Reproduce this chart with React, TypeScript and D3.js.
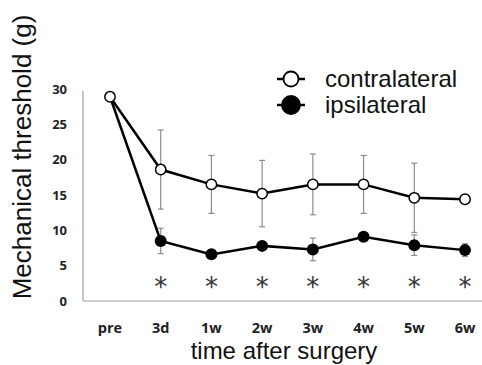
import { useEffect, useRef } from 'react';
import * as d3 from 'd3';

const categories = ['pre', '3d', '1w', '2w', '3w', '4w', '5w', '6w'];
const contraMean = [28.9, 18.6, 16.5, 15.2, 16.5, 16.5, 14.6, 14.4];
const contraErr = [0, 5.6, 4.1, 4.7, 4.3, 4.1, 4.9, 0.3];
const ipsiMean = [28.9, 8.5, 6.6, 7.8, 7.3, 9.1, 7.9, 7.2];
const ipsiErr = [0, 1.8, 0.4, 0.4, 1.6, 0.3, 1.45, 0.9];
const significant = [false, true, true, true, true, true, true, true];
const yTicks = [0, 5, 10, 15, 20, 25, 30];

const App = () => {
  const svgRef = useRef<SVGSVGElement>(null);

  useEffect(() => {
    const w = 482;
    const h = 365;
    const svg = d3.select(svgRef.current);
    svg.selectAll('*').remove();
    svg.attr('width', w).attr('height', h);

    const x = d3.scalePoint<string>().domain(categories).range([110, 465]);
    const y = d3.scaleLinear().domain([0, 30]).range([301, 89]);

    // axes lines
    svg.append('line')
      .attr('x1', 83).attr('x2', 482)
      .attr('y1', y(0)).attr('y2', y(0))
      .attr('stroke', '#a0a0a0').attr('stroke-width', 1.2);
    svg.append('line')
      .attr('x1', 83).attr('x2', 83)
      .attr('y1', y(0)).attr('y2', y(29.7))
      .attr('stroke', '#a0a0a0').attr('stroke-width', 1.2);

    // y tick labels
    svg.append('g')
      .selectAll('text')
      .data(yTicks)
      .enter().append('text')
      .attr('x', 67)
      .attr('y', d => y(d))
      .attr('dy', '0.35em')
      .attr('text-anchor', 'end')
      .style('font-family', '"Open Sans", sans-serif')
      .style('font-weight', 'bold')
      .style('font-size', '13px')
      .attr('fill', '#222')
      .text(d => d);

    // x tick labels
    svg.append('g')
      .selectAll('text')
      .data(categories)
      .enter().append('text')
      .attr('x', d => x(d)!)
      .attr('y', 328)
      .attr('dy', '0.35em')
      .attr('text-anchor', 'middle')
      .style('font-family', '"Open Sans", sans-serif')
      .style('font-weight', 'bold')
      .style('font-size', '14.5px')
      .attr('fill', '#222')
      .text(d => d);

    // axis titles
    svg.append('text')
      .attr('x', 284)
      .attr('y', 359)
      .attr('text-anchor', 'middle')
      .style('font-family', '"Liberation Sans", Arial, sans-serif')
      .style('font-size', '24px')
      .attr('fill', '#111')
      .text('time after surgery');
    svg.append('text')
      .attr('transform', 'translate(31,157) rotate(-90)')
      .attr('text-anchor', 'middle')
      .style('font-family', '"Liberation Sans", Arial, sans-serif')
      .style('font-size', '26px')
      .attr('fill', '#111')
      .text('Mechanical threshold (g)');

    // error bars
    const drawErr = (mean: number[], err: number[]) => {
      const g = svg.append('g').attr('stroke', '#8c8c8c').attr('stroke-width', 1.2);
      categories.forEach((c, i) => {
        if (err[i] <= 0) return;
        const cx = x(c)!;
        const top = y(mean[i] + err[i]);
        const bot = y(mean[i] - err[i]);
        g.append('line').attr('x1', cx).attr('x2', cx).attr('y1', top).attr('y2', bot);
        g.append('line').attr('x1', cx - 3).attr('x2', cx + 3).attr('y1', top).attr('y2', top);
        g.append('line').attr('x1', cx - 3).attr('x2', cx + 3).attr('y1', bot).attr('y2', bot);
      });
    };
    drawErr(contraMean, contraErr);
    drawErr(ipsiMean, ipsiErr);

    const line = d3.line<number>()
      .x((_, i) => x(categories[i])!)
      .y(d => y(d));

    svg.append('path')
      .attr('d', line(ipsiMean))
      .attr('fill', 'none')
      .attr('stroke', '#000')
      .attr('stroke-width', 2.5);
    svg.append('path')
      .attr('d', line(contraMean))
      .attr('fill', 'none')
      .attr('stroke', '#000')
      .attr('stroke-width', 2.5);

    // ipsilateral markers
    svg.append('g')
      .selectAll('circle')
      .data(ipsiMean.slice(1))
      .enter().append('circle')
      .attr('cx', (_, i) => x(categories[i + 1])!)
      .attr('cy', d => y(d))
      .attr('r', 6)
      .attr('fill', '#000');

    // contralateral markers
    svg.append('g')
      .selectAll('circle')
      .data(contraMean)
      .enter().append('circle')
      .attr('cx', (_, i) => x(categories[i])!)
      .attr('cy', d => y(d))
      .attr('r', 5.2)
      .attr('fill', '#fff')
      .attr('stroke', '#000')
      .attr('stroke-width', 1.5);

    // significance asterisks
    svg.append('g')
      .selectAll('text')
      .data(categories.filter((_, i) => significant[i]))
      .enter().append('text')
      .attr('x', d => x(d)!)
      .attr('y', 296)
      .attr('text-anchor', 'middle')
      .style('font-family', '"DejaVu Sans", sans-serif')
      .style('font-size', '26px')
      .attr('fill', '#333')
      .text('*');

    // legend
    const legend = svg.append('g');
    const items = [
      { label: 'contralateral', fill: '#fff', r: 7.5, y: 79 },
      { label: 'ipsilateral', fill: '#000', r: 9, y: 105 }
    ];
    items.forEach(it => {
      legend.append('line')
        .attr('x1', 277).attr('x2', 305)
        .attr('y1', it.y).attr('y2', it.y)
        .attr('stroke', '#000').attr('stroke-width', 2.5);
      legend.append('circle')
        .attr('cx', 291).attr('cy', it.y).attr('r', it.r)
        .attr('fill', it.fill).attr('stroke', '#000').attr('stroke-width', 1.8);
      legend.append('text')
        .attr('x', 325).attr('y', it.y)
        .attr('dy', '0.35em')
        .style('font-family', '"Liberation Sans", Arial, sans-serif')
        .style('font-size', '24px')
        .attr('fill', '#111')
        .text(it.label);
    });
  }, []);

  return (
    <svg ref={svgRef} style={{ position: 'absolute', left: 0, top: 0 }}></svg>
  );
};

export default App;
